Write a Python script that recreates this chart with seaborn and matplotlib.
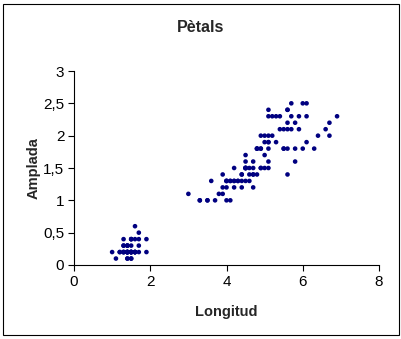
import matplotlib
matplotlib.use("Agg")
import matplotlib.pyplot as plt
from matplotlib.patches import Rectangle
from matplotlib.ticker import FuncFormatter
import seaborn as sns
import pandas as pd

# Petal length (Longitud) and width (Amplada) of 150 iris flowers
longitud = [
    1.4, 1.4, 1.3, 1.5, 1.4, 1.7, 1.4, 1.5, 1.4, 1.5, 1.5, 1.6, 1.4, 1.1, 1.2, 1.5, 1.3, 1.4, 1.7, 1.5,
    1.7, 1.5, 1.0, 1.7, 1.9, 1.6, 1.6, 1.5, 1.4, 1.6, 1.6, 1.5, 1.5, 1.4, 1.5, 1.2, 1.3, 1.4, 1.3, 1.5,
    1.3, 1.3, 1.3, 1.6, 1.9, 1.4, 1.6, 1.4, 1.5, 1.4,
    4.7, 4.5, 4.9, 4.0, 4.6, 4.5, 4.7, 3.3, 4.6, 3.9, 3.5, 4.2, 4.0, 4.7, 3.6, 4.4, 4.5, 4.1, 4.5, 3.9,
    4.8, 4.0, 4.9, 4.7, 4.3, 4.4, 4.8, 5.0, 4.5, 3.5, 3.8, 3.7, 3.9, 5.1, 4.5, 4.5, 4.7, 4.4, 4.1, 4.0,
    4.4, 4.6, 4.0, 3.3, 4.2, 4.2, 4.2, 4.3, 3.0, 4.1,
    6.0, 5.1, 5.9, 5.6, 5.8, 6.6, 4.5, 6.3, 5.8, 6.1, 5.1, 5.3, 5.5, 5.0, 5.1, 5.3, 5.5, 6.7, 6.9, 5.0,
    5.7, 4.9, 6.7, 4.9, 5.7, 6.0, 4.8, 4.9, 5.6, 5.8, 6.1, 6.4, 5.6, 5.1, 5.6, 6.1, 5.6, 5.5, 4.8, 5.4,
    5.6, 5.1, 5.1, 5.9, 5.7, 5.2, 5.0, 5.2, 5.4, 5.1,
]
amplada = [
    0.2, 0.2, 0.2, 0.2, 0.2, 0.4, 0.3, 0.2, 0.2, 0.1, 0.2, 0.2, 0.1, 0.1, 0.2, 0.4, 0.4, 0.3, 0.3, 0.3,
    0.2, 0.4, 0.2, 0.5, 0.2, 0.2, 0.4, 0.2, 0.2, 0.2, 0.2, 0.4, 0.1, 0.2, 0.2, 0.2, 0.2, 0.1, 0.2, 0.2,
    0.3, 0.3, 0.2, 0.6, 0.4, 0.3, 0.2, 0.2, 0.2, 0.2,
    1.4, 1.5, 1.5, 1.3, 1.5, 1.3, 1.6, 1.0, 1.3, 1.4, 1.0, 1.5, 1.0, 1.4, 1.3, 1.4, 1.5, 1.0, 1.5, 1.1,
    1.8, 1.3, 1.5, 1.2, 1.3, 1.4, 1.4, 1.7, 1.5, 1.0, 1.1, 1.0, 1.2, 1.6, 1.5, 1.6, 1.5, 1.3, 1.3, 1.3,
    1.2, 1.4, 1.2, 1.0, 1.3, 1.2, 1.3, 1.3, 1.1, 1.3,
    2.5, 1.9, 2.1, 1.8, 2.2, 2.1, 1.7, 1.8, 1.8, 2.5, 2.0, 1.9, 2.1, 2.0, 2.4, 2.3, 1.8, 2.2, 2.3, 1.5,
    2.3, 2.0, 2.0, 1.8, 2.1, 1.8, 1.8, 1.8, 2.1, 1.6, 1.9, 2.0, 2.2, 1.5, 1.4, 2.3, 2.4, 1.8, 1.8, 2.1,
    2.4, 2.3, 1.9, 2.3, 2.5, 2.3, 1.9, 2.0, 2.3, 1.8,
]
x_ticks = [0, 2, 4, 6, 8]
y_ticks = [0, 0.5, 1, 1.5, 2, 2.5, 3]

df = pd.DataFrame({"Longitud": longitud, "Amplada": amplada})

sns.set_style("white")
plt.rcParams["font.family"] = ["Liberation Sans", "DejaVu Sans"]

fig = plt.figure(figsize=(4.02, 3.39), dpi=100)
ax = fig.add_axes([74 / 402, 1 - 265 / 339, 305 / 402, 194 / 339])

sns.scatterplot(data=df, x="Longitud", y="Amplada", ax=ax,
                color="#000080", marker="o", s=11, linewidth=0, edgecolor="none")

ax.set_xlim(x_ticks[0], x_ticks[-1])
ax.set_ylim(y_ticks[0], y_ticks[-1])
ax.set_xticks(x_ticks)
ax.set_yticks(y_ticks)
comma = FuncFormatter(lambda v, _: f"{v:g}".replace(".", ","))
ax.xaxis.set_major_formatter(comma)
ax.yaxis.set_major_formatter(comma)

for side in ("top", "right"):
    ax.spines[side].set_visible(False)
for side in ("left", "bottom"):
    ax.spines[side].set_color("black")
    ax.spines[side].set_linewidth(0.8)
ax.tick_params(axis="both", direction="out", length=4, width=0.8, color="black",
               labelsize=11, labelcolor="black", pad=3, left=True, bottom=True)

ax.set_xlabel("Longitud", fontsize=10.5, fontweight="bold", labelpad=12)
ax.set_ylabel("Amplada", fontsize=10.5, fontweight="bold", labelpad=2)

fig.text(201 / 402, 1 - 28 / 339, "Pètals", ha="center", va="center",
         fontsize=11.5, fontweight="bold")

fig.patches.append(Rectangle((3 / 402, 4 / 339), 396 / 402, 331 / 339,
                             transform=fig.transFigure, fill=False,
                             edgecolor="black", linewidth=0.8))

fig.savefig("out.png", dpi=100)
